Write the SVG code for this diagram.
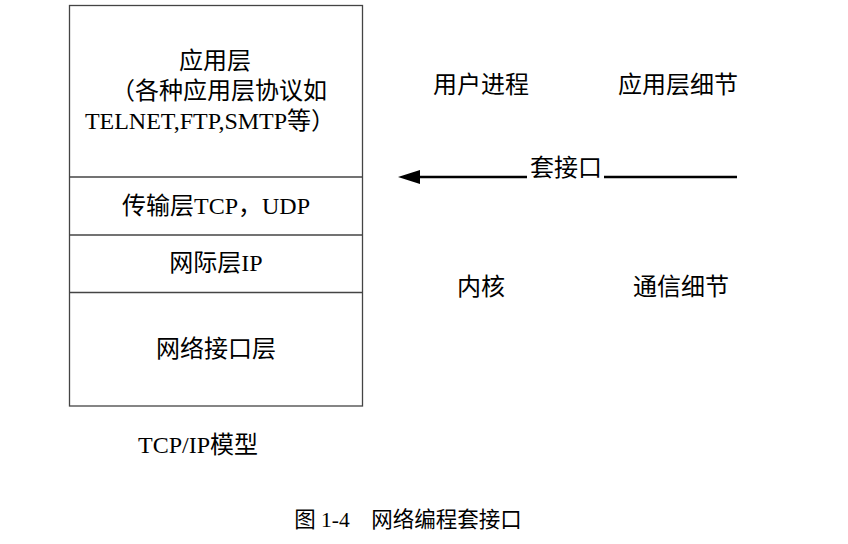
<svg xmlns="http://www.w3.org/2000/svg" width="848" height="544" viewBox="0 0 848 544">
<style>
text{font-family:"Liberation Serif","Noto Sans CJK SC",serif;font-size:24px;fill:#000;text-anchor:middle}
.box{fill:none;stroke:#444;stroke-width:1.3}
.conn{stroke:#000;stroke-width:2.5;fill:none}
.cap{font-size:21.5px}
</style>
<defs>
<marker id="ah" viewBox="0 0 22 14" refX="0" refY="7" markerWidth="22" markerHeight="14" markerUnits="userSpaceOnUse" orient="auto" overflow="visible">
<path d="M0,0 L22,7 L0,14 Z" fill="#000"/>
</marker>
</defs>
<rect width="848" height="544" fill="#fff"/>
<g id="stack">
<rect class="box" x="69.5" y="5.5" width="293" height="400.5"/>
<line class="box" x1="69.5" y1="177" x2="362.5" y2="177"/>
<line class="box" x1="69.5" y1="235" x2="362.5" y2="235"/>
<line class="box" x1="69.5" y1="292.5" x2="362.5" y2="292.5"/>
</g>
<g id="app-layer">
<text x="215" y="69">应用层</text>
<text x="219" y="99">（各种应用层协议如</text>
<text x="210" y="129">TELNET,FTP,SMTP等）</text>
</g>
<g id="transport-layer"><text x="216" y="214">传输层TCP，UDP</text></g>
<g id="internet-layer"><text x="216" y="271">网际层IP</text></g>
<g id="link-layer"><text x="216" y="357">网络接口层</text></g>
<g id="model-label"><text x="198" y="453">TCP/IP模型</text></g>
<g id="user-process"><text x="481" y="93">用户进程</text></g>
<g id="app-detail"><text x="678" y="93">应用层细节</text></g>
<g id="kernel"><text x="481" y="295">内核</text></g>
<g id="comm-detail"><text x="681" y="295">通信细节</text></g>
<g id="connectors">
<line class="conn" x1="527" y1="177" x2="420" y2="177" marker-end="url(#ah)"/>
<line class="conn" x1="604" y1="177" x2="737" y2="177"/>
<text x="566" y="176">套接口</text>
</g>
<g id="caption">
<text class="cap" x="408" y="527">图 1-4　网络编程套接口</text>
<text class="cap" x="443" y="558">2</text>
</g>
</svg>
